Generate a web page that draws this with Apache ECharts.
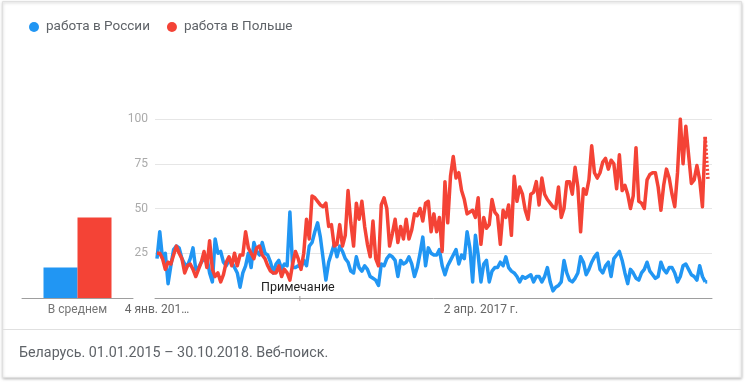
<!DOCTYPE html>
<html><head><meta charset="utf-8">
<script src="https://cdn.jsdelivr.net/npm/echarts@6/dist/echarts.min.js"></script>
<style>html,body{margin:0;padding:0;background:#fff}#c{width:745px;height:386px}</style>
</head><body><div id="c"></div>
<script>
const seriesNames = ['работа в России', 'работа в Польше'];
const russia = [
22,37,22,25,8,18,27,29,28,22,
19,18,22,28,16,17,20,22,23,14,
9,33,25,26,20,18,21,20,17,14,
6,14,18,25,17,31,26,24,31,25,
24,20,14,19,21,16,19,18,48,17,
17,18,17,21,18,29,31,37,42,34,
22,10,20,25,30,23,29,26,22,20,
15,14,23,17,15,18,16,12,11,10,
7,19,18,22,24,23,21,12,21,19,
20,23,19,12,17,25,34,18,28,25,
24,
24,27,18,13,18,21,24,27,19,24,
22,37,28,9,35,24,9,19,21,9,
15,17,17,20,18,23,17,15,14,12,
9,12,11,12,13,9,12,12,9,12,
17,9,4,6,7,9,21,14,10,9,
11,14,23,20,13,16,20,23,25,16,
14,18,20,12,22,24,26,21,14,8,
16,14,11,10,14,16,20,15,13,11,
12,20,16,14,17,17,14,9,12,18,
19,16,13,12,10,18,12,9,9
];
const poland = [
25,25,22,16,20,19,24,29,25,22,
14,18,19,16,12,16,20,26,17,32,
16,12,14,9,13,20,23,18,25,18,
24,24,37,28,25,22,28,29,24,22,
18,15,14,14,18,12,16,14,10,19,
26,22,16,25,44,33,57,56,54,52,
51,53,40,41,29,30,41,29,35,60,
42,29,53,44,54,40,30,23,43,22,
18,52,56,50,29,36,44,31,40,33,
44,33,38,47,46,50,43,53,54,37,
47,37,45,26,65,42,68,79,67,70,
60,55,47,48,
49,45,56,30,45,39,41,
55,48,46,30,49,45,52,35,68,54,
62,58,49,44,58,59,65,52,67,58,
55,53,51,50,62,45,50,65,65,58,
73,62,37,61,58,66,85,70,67,70,
76,78,72,77,75,61,80,60,63,58,
50,57,84,54,53,50,66,69,70,70,
62,49,63,72,67,58,51,70,100,75,
96,80,64,66,74,66,51,90,66
];
const averages = [17, 45];
const avgCategory = ['В среднем'];
const yTicks = [25, 50, 75, 100];
const xTickIndex = [0, 117];
const xTickLabels = ['4 янв. 201…', '2 апр. 2017 г.'];
const footerText = 'Беларусь. 01.01.2015 – 30.10.2018. Веб-поиск.';
const noteText = 'Примечание';
const noteIndex = 51.6;

const colors = ['#2196f3', '#f44336'];
const FONT = 'Roboto';
const n = russia.length;
const solid = arr => arr.slice(0, n - 1).map((v, i) => [i, v]);
const tail = arr => arr.slice(n - 2).map((v, k) => [n - 2 + k, v]);

const chart = echarts.init(document.getElementById('c'), null, {renderer: 'canvas'});
const option = {
  animation: false,
  color: colors,
  textStyle: {fontFamily: FONT},
  legend: {
    data: seriesNames, left: 24, top: 15, icon: 'circle', itemWidth: 10, itemHeight: 10, itemGap: 17,
    selectedMode: false,
    textStyle: {fontFamily: FONT, fontSize: 13.5, color: '#5f6368', padding: [0, 0, 0, 2]}
  },
  grid: [
    {left: 22, right: 612, top: 119, height: 179},
    {left: 155, right: 33, top: 119, height: 179}
  ],
  xAxis: [
    {type: 'category', gridIndex: 0, data: avgCategory,
     axisLine: {lineStyle: {color: '#9e9e9e'}}, axisTick: {show: false},
     axisLabel: {color: '#757575', fontSize: 12, fontFamily: FONT, margin: 6}},
    {type: 'value', gridIndex: 1, min: -0.722, max: 200.45,
     axisLine: {show: true, onZero: false, lineStyle: {color: '#9e9e9e'}}, axisTick: {show: false},
     splitLine: {show: false},
     axisLabel: {customValues: xTickIndex, color: '#666', fontSize: 12, fontFamily: FONT, margin: 6,
       formatter: v => xTickLabels[xTickIndex.indexOf(v)] || ''}}
  ],
  yAxis: [
    {type: 'value', gridIndex: 0, min: 0, max: 100, show: false},
    {type: 'value', gridIndex: 1, min: 0, max: 100, interval: 25,
     axisLine: {show: false}, axisTick: {show: false},
     splitLine: {lineStyle: {color: '#e6e6e6'}},
     axisLabel: {customValues: yTicks, color: '#aaaaaa', fontSize: 12, fontFamily: FONT, margin: 7}}
  ],
  series: [
    {name: seriesNames[0], type: 'bar', xAxisIndex: 0, yAxisIndex: 0, data: [averages[0]], barWidth: 34, barGap: '0%', itemStyle: {color: colors[0]}, silent: true},
    {name: seriesNames[1], type: 'bar', xAxisIndex: 0, yAxisIndex: 0, data: [averages[1]], barWidth: 34, barGap: '0%', itemStyle: {color: colors[1]}, silent: true},
    {name: seriesNames[0], type: 'line', xAxisIndex: 1, yAxisIndex: 1, data: solid(russia), showSymbol: false, symbol: 'none', lineStyle: {width: 3.5, color: colors[0], join: 'round'}, itemStyle: {color: colors[0]}, silent: true},
    {name: seriesNames[1], type: 'line', xAxisIndex: 1, yAxisIndex: 1, data: solid(poland), showSymbol: false, symbol: 'none', lineStyle: {width: 3.5, color: colors[1], join: 'round'}, itemStyle: {color: colors[1]}, silent: true},
    {name: seriesNames[0], type: 'line', xAxisIndex: 1, yAxisIndex: 1, data: tail(russia), showSymbol: false, symbol: 'none', lineStyle: {width: 3.5, color: colors[0], type: [2, 2]}, itemStyle: {color: colors[0]}, silent: true},
    {name: seriesNames[1], type: 'line', xAxisIndex: 1, yAxisIndex: 1, data: tail(poland), showSymbol: false, symbol: 'none', lineStyle: {width: 3.5, color: colors[1], type: [2, 2]}, itemStyle: {color: colors[1]}, silent: true}
  ]
};
chart.setOption(option);

const notePt = chart.convertToPixel({xAxisIndex: 1, yAxisIndex: 1}, [noteIndex, 0]);
chart.setOption({
  graphic: [
    {type: 'rect', z: -10, silent: true, shape: {x: 2.5, y: 1.5, width: 739, height: 376},
     style: {fill: '#fff', stroke: '#e0e0e0', lineWidth: 1, shadowBlur: 3, shadowOffsetY: 1, shadowColor: 'rgba(0,0,0,0.25)'}},
    {type: 'line', z: -9, silent: true, shape: {x1: 3, y1: 329.5, x2: 741, y2: 329.5}, style: {stroke: '#e0e0e0', lineWidth: 1}},
    {type: 'text', silent: true, left: 19, top: 346, style: {text: footerText, font: '14.3px Roboto', fill: '#5f6368'}},
    {type: 'line', silent: true, shape: {x1: notePt[0], y1: notePt[1] - 2, x2: notePt[0], y2: notePt[1] + 3}, style: {stroke: '#9e9e9e', lineWidth: 1}},
    {type: 'text', silent: true, x: notePt[0] - 2, y: notePt[1] - 10, style: {text: noteText, font: '12.5px Roboto', fill: '#222', align: 'center', verticalAlign: 'middle'}}
  ]
});
</script></body></html>
